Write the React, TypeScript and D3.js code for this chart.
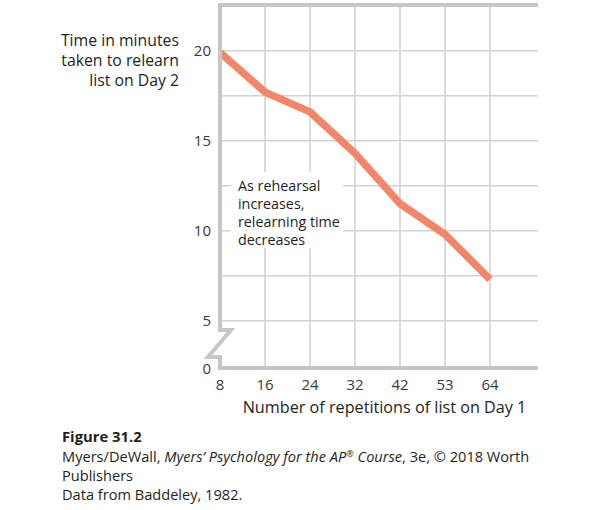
import React from "react";
import * as d3 from "d3";

const repetitions = ["8", "16", "24", "32", "42", "53", "64"];
const relearnMinutes = [19.9, 17.7, 16.6, 14.3, 11.5, 9.8, 7.3];
const yTicks = [5, 10, 15, 20];
const yGrid = [5, 7.5, 10, 12.5, 15, 17.5, 20];
const yTitleLines = ["Time in minutes", "taken to relearn", "list on Day 2"];
const annotationLines = ["As rehearsal", "increases,", "relearning time", "decreases"];
const xTitle = "Number of repetitions of list on Day 1";

const FONT = "'Open Sans', 'Noto Sans', sans-serif";

export default function App() {
  const left = 220;
  const right = 538;
  const top = 5;
  const bottom = 368;

  const x = d3.scalePoint<string>().domain(repetitions).range([220, 490]);
  const y = d3.scaleLinear().domain([5, 22.5]).range([320.7, 5.7]);

  const line = d3
    .line<number>()
    .x((_, i) => x(repetitions[i]) as number)
    .y((d) => y(d));

  const gridColor = "#d2d2d2";
  const axisColor = "#c6c6c6";
  const breakTop = 330;
  const breakBot = 357;
  const textColor = "#231f20";

  return (
    <svg width={600} height={510} style={{ position: "absolute", left: 0, top: 0, background: "#fff" }}>
      {yGrid.map((v) => (
        <line key={"h" + v} x1={left} x2={right} y1={y(v)} y2={y(v)} stroke={gridColor} strokeWidth={1.6} />
      ))}
      {repetitions.slice(1).map((c) => (
        <line key={"v" + c} x1={x(c)} x2={x(c)} y1={top} y2={bottom} stroke={gridColor} strokeWidth={1.6} />
      ))}
      <line x1={left - 2} x2={right} y1={top} y2={top} stroke={axisColor} strokeWidth={4} />
      <line x1={left - 2} x2={right} y1={bottom} y2={bottom} stroke={axisColor} strokeWidth={4} />
      <path
        d={`M${left},${top - 2} V${breakTop} H${left + 11} L${left - 12},${breakBot} H${left} V${bottom + 2}`}
        fill="none"
        stroke={axisColor}
        strokeWidth={4}
        strokeLinejoin="miter"
      />
      <rect x={231} y={172} width={112} height={76} fill="#fff" />
      {annotationLines.map((t, i) => (
        <text key={t} x={238} y={191 + i * 18} fontFamily={FONT} fontSize={14.3} fill={textColor}>
          {t}
        </text>
      ))}
      <path
        d={line(relearnMinutes) || ""}
        fill="none"
        stroke="#f2866a"
        strokeWidth={7.5}
        strokeLinejoin="miter"
        strokeLinecap="butt"
      />
      <line x1={left} x2={left} y1={top} y2={breakTop} stroke={axisColor} strokeWidth={4} />
      {yTicks.map((v) => (
        <text key={"yt" + v} x={211} y={y(v) + 5.5} textAnchor="end" fontFamily={FONT} fontSize={15} fill="#3a3a3a">
          {v}
        </text>
      ))}
      <text x={211} y={bottom + 5.5} textAnchor="end" fontFamily={FONT} fontSize={15} fill="#3a3a3a">
        0
      </text>
      {repetitions.map((c) => (
        <text key={"xt" + c} x={x(c)} y={390} textAnchor="middle" fontFamily={FONT} fontSize={15} fill="#3a3a3a">
          {c}
        </text>
      ))}
      {yTitleLines.map((t, i) => (
        <text key={t} x={179} y={46 + i * 20} textAnchor="end" fontFamily={FONT} fontSize={15.8} fill={textColor}>
          {t}
        </text>
      ))}
      <text x={384.5} y={413} textAnchor="middle" fontFamily={FONT} fontSize={16.2} fill={textColor}>
        {xTitle}
      </text>
      <text x={62} y={442} fontFamily={FONT} fontSize={14.8} fontWeight="bold" fill={textColor}>
        Figure 31.2
      </text>
      <text x={62} y={461.5} fontFamily={FONT} fontSize={14.6} fill={textColor}>
        Myers/DeWall, <tspan fontStyle="italic">Myers’ Psychology for the AP</tspan>
        <tspan fontStyle="italic" fontSize={9} dy={-5}>®</tspan>
        <tspan fontStyle="italic" dy={5}> Course</tspan>, 3e, © 2018 Worth
      </text>
      <text x={62} y={480.5} fontFamily={FONT} fontSize={14.6} fill={textColor}>
        Publishers
      </text>
      <text x={62} y={499.5} fontFamily={FONT} fontSize={14.6} fill={textColor}>
        Data from Baddeley, 1982.
      </text>
    </svg>
  );
}
